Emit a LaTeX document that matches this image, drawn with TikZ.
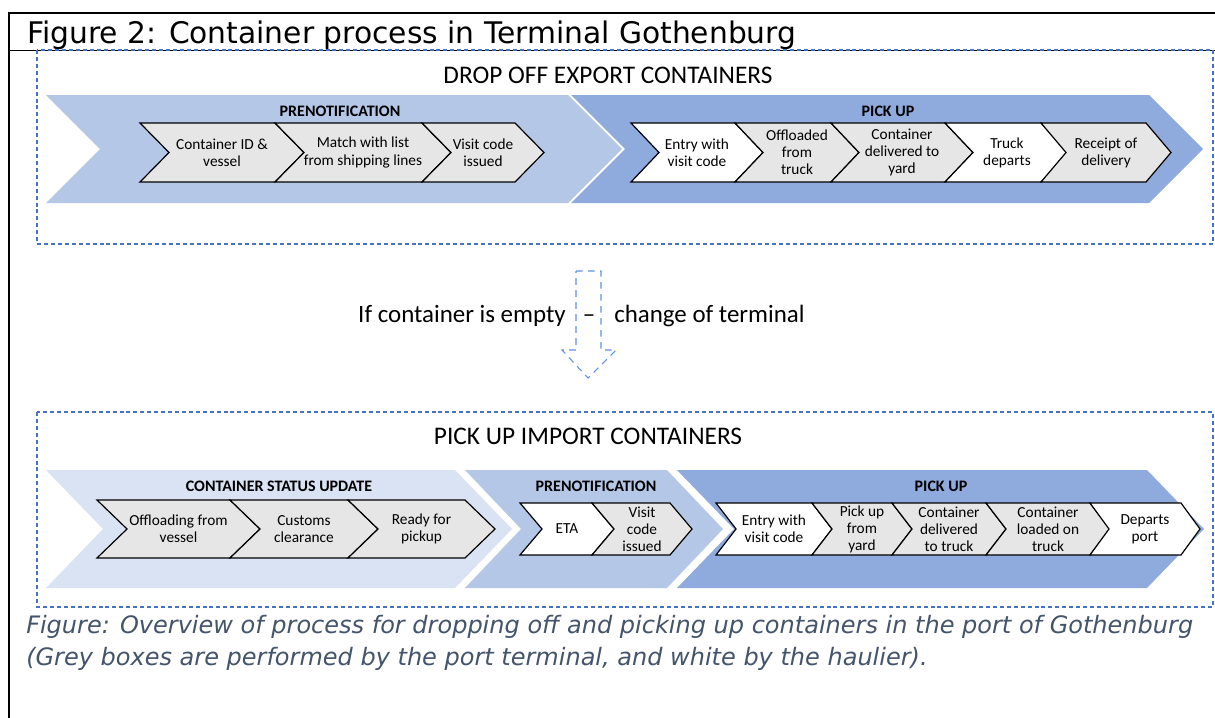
\documentclass[tikz,border=0pt]{standalone}
\usepackage{fontspec}
\setmainfont{Carlito}
\newfontfamily\verdfont{DejaVu Sans}

\definecolor{phaselight}{RGB}{218,227,243}
\definecolor{phasemid}{RGB}{180,199,231}
\definecolor{phasedark}{RGB}{143,170,220}
\definecolor{boxgrey}{RGB}{230,230,230}
\definecolor{boxblue}{RGB}{68,114,196}
\definecolor{arrowblue}{RGB}{96,145,226}
\definecolor{capgrey}{RGB}{68,84,106}

% chevron outline: style, left x, top-right x, top y, bottom y, point depth
\newcommand{\chevpath}[6]{%
  \path[#1] (#2,#4) -- (#3,#4) -- ({#3+#6},{(#4+#5)/2}) -- (#3,#5) -- (#2,#5)
    -- ({#2+#6},{(#4+#5)/2}) -- cycle;}
% process step: name, style, left x, top-right x, top y, bottom y, depth, text
\newcommand{\stepchev}[8]{%
  \chevpath{#2}{#3}{#4}{#5}{#6}{#7}
  \node[steptext] (#1) at ({(#3+#4)/2+#7/2},{(#5+#6)/2}) {#8};}

\tikzset{
  stepgrey/.style={fill=boxgrey, draw=black, line width=0.9pt, line join=miter},
  stepwhite/.style={fill=white, draw=black, line width=0.9pt, line join=miter},
  steptext/.style={align=center, inner sep=0pt, font=\fontsize{11.5}{12.8}\selectfont},
  phaselabel/.style={inner sep=0pt, font=\bfseries\fontsize{12}{14}\selectfont},
  sectionlabel/.style={inner sep=0pt, font=\fontsize{19}{22}\selectfont},
  dashbox/.style={draw=boxblue, line width=0.8pt, dash pattern=on 3pt off 2.2pt},
  arrowdash/.style={draw=arrowblue, line width=0.8pt, dash pattern=on 5pt off 4pt},
  midtext/.style={inner sep=0pt, font=\fontsize{18.7}{22}\selectfont},
  captext/.style={anchor=base west, inner sep=0pt, text=capgrey,
    font=\verdfont\itshape\fontsize{18}{22}\selectfont},
}

\begin{document}
\begin{tikzpicture}[x=0.75pt, y=-0.75pt]
\useasboundingbox (0,0) rectangle (1215,718);
\fill[white] (0,0) rectangle (1215,718);

% table frame and heading row
\draw[line width=1.4pt] (9,718) -- (9,13) -- (1215,13);
\draw[line width=0.6pt] (9,50) -- (1215,50);
\node[anchor=base west, inner sep=0pt, font=\verdfont\fontsize{22.3}{26}\selectfont]
  (title) at (27,43) {Figure 2: Container process in Terminal Gothenburg};

% ---------- drop off export containers ----------
\draw[dashbox] (37,50) rectangle (1213,244);
\node[sectionlabel] (export) at (608,75) {DROP OFF EXPORT CONTAINERS};

\chevpath{fill=phasemid}{46}{568}{95}{203}{54}
\chevpath{fill=phasedark}{571}{1149}{95}{203}{54}
\node[phaselabel] (exprenot) at (340,111) {PRENOTIFICATION};
\node[phaselabel] (expickup) at (888,111) {PICK UP};

\stepchev{e1}{stepgrey}{140}{275}{123}{182}{29}{Container ID \&\\vessel}
\stepchev{e2}{stepgrey}{275}{422}{123}{182}{29}{Match with list\\from shipping lines}
\stepchev{e3}{stepgrey}{422}{515}{123}{182}{29}{Visit code\\issued}

\stepchev{e4}{stepwhite}{631}{735}{123}{182}{28}{Entry with\\visit code}
\stepchev{e5}{stepgrey}{735}{831}{123}{182}{28}{Offloaded\\from\\truck}
\stepchev{e6}{stepgrey}{831}{945}{123}{182}{28}{Container\\delivered to\\yard}
\stepchev{e7}{stepwhite}{945}{1041}{123}{182}{28}{Truck\\departs}
\stepchev{e8}{stepgrey}{1041}{1146}{123}{182}{25}{Receipt of\\delivery}

% ---------- empty container: change of terminal ----------
\path[arrowdash] (576,271) -- (601,271) -- (601,350) -- (616,350) -- (588,378)
  -- (562,350) -- (576,350) -- cycle;
\node[midtext, anchor=base east] (ifempty) at (566,322) {If container is empty};
\node[midtext, anchor=base] (dash) at (589,322) {–};
\node[midtext, anchor=base west] (change) at (614,322) {change of terminal};

% ---------- pick up import containers ----------
\draw[dashbox] (37,412) rectangle (1213,607);
\node[sectionlabel] (import) at (588,436) {PICK UP IMPORT CONTAINERS};

\chevpath{fill=phaselight}{46}{455}{470}{588}{57}
\chevpath{fill=phasemid}{465}{667}{470}{588}{56}
\chevpath{fill=phasedark}{677}{1147}{470}{588}{57}
\node[phaselabel] (imstatus) at (279,486) {CONTAINER STATUS UPDATE};
\node[phaselabel] (imprenot) at (596,486) {PRENOTIFICATION};
\node[phaselabel] (impickup) at (941,486) {PICK UP};

\stepchev{i1}{stepgrey}{97}{230}{500}{558}{30}{Offloading from\\vessel}
\stepchev{i2}{stepgrey}{230}{348}{500}{558}{30}{Customs\\clearance}
\stepchev{i3}{stepgrey}{348}{465}{500}{558}{30}{Ready for\\pickup}

\stepchev{i4}{stepwhite}{520}{592}{503}{555}{22}{ETA}
\stepchev{i5}{stepgrey}{592}{670}{503}{555}{22}{Visit\\code\\issued}

\stepchev{i6}{stepwhite}{716}{812}{503}{555}{20}{Entry with\\visit code}
\stepchev{i7}{stepgrey}{812}{892}{503}{555}{20}{Pick up\\from\\yard}
\stepchev{i8}{stepgrey}{892}{986}{503}{555}{20}{Container\\delivered\\to truck}
\stepchev{i9}{stepgrey}{986}{1090}{503}{555}{20}{Container\\loaded on\\truck}
\stepchev{i10}{stepwhite}{1090}{1181}{503}{555}{19}{Departs\\port}

% caption
\node[captext] (cap1) at (26,633)
  {Figure: Overview of process for dropping off and picking up containers in the port of Gothenburg};
\node[captext] (cap2) at (26,665)
  {(Grey boxes are performed by the port terminal, and white by the haulier).};
\end{tikzpicture}
\end{document}
